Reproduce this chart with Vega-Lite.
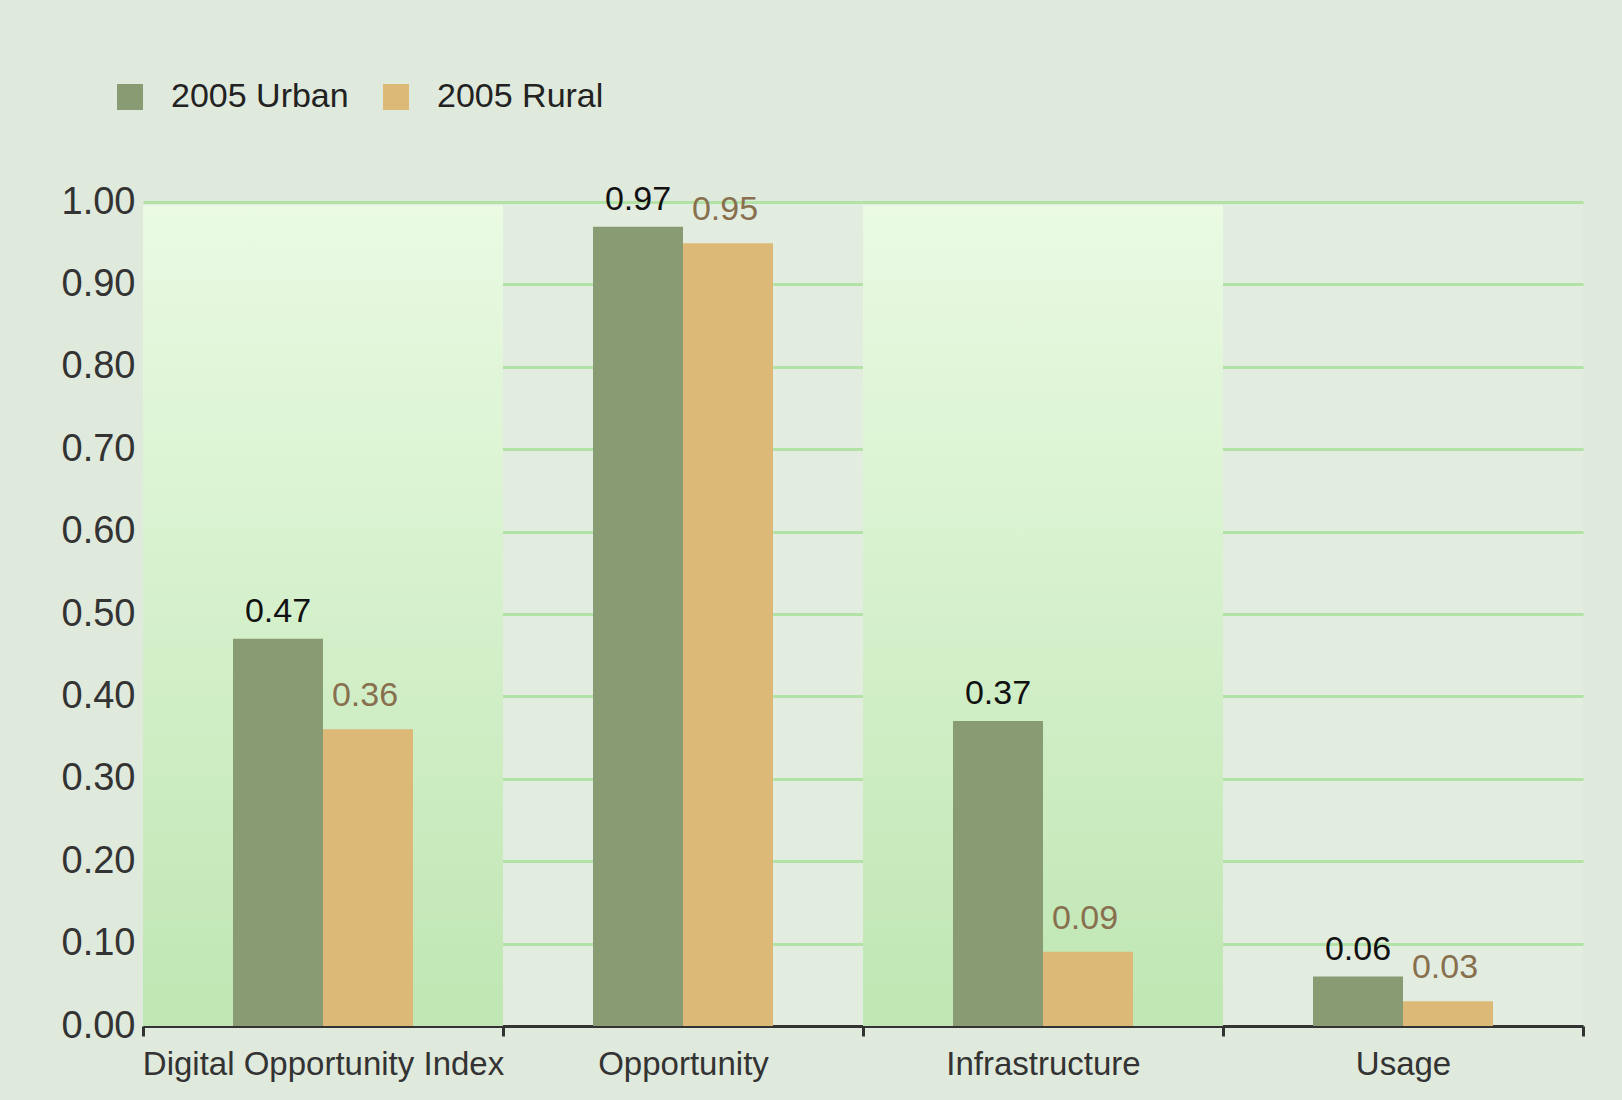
{
  "$schema": "https://vega.github.io/schema/vega-lite/v6.json",
  "width": 1440,
  "height": 824,
  "autosize": {"type": "none"},
  "padding": {"left": 143, "top": 202, "right": 39, "bottom": 74},
  "background": "#dfe9dc",
  "config": {
    "font": "Liberation Sans",
    "view": {"fill": "#e2eddf", "stroke": null},
    "axisY": {
      "grid": true,
      "gridColor": "#b3e2a6",
      "gridWidth": 3,
      "ticks": false,
      "domain": false,
      "labelFontSize": 38,
      "labelColor": "#333333",
      "labelPadding": 8
    },
    "axisX": {
      "labelAngle": 0,
      "labelFontSize": 33,
      "labelLimit": 600,
      "labelColor": "#333333",
      "labelPadding": 12,
      "tickBand": "extent",
      "tickColor": "#333333",
      "tickWidth": 3,
      "tickSize": 10,
      "domainColor": "#333333",
      "domainWidth": 3,
      "grid": false,
      "zindex": 2
    }
  },
  "data": {
    "values": [
      {"category": "Digital Opportunity Index", "series": "2005 Urban", "value": 0.47},
      {"category": "Digital Opportunity Index", "series": "2005 Rural", "value": 0.36},
      {"category": "Opportunity", "series": "2005 Urban", "value": 0.97},
      {"category": "Opportunity", "series": "2005 Rural", "value": 0.95},
      {"category": "Infrastructure", "series": "2005 Urban", "value": 0.37},
      {"category": "Infrastructure", "series": "2005 Rural", "value": 0.09},
      {"category": "Usage", "series": "2005 Urban", "value": 0.06},
      {"category": "Usage", "series": "2005 Rural", "value": 0.03}
    ]
  },
  "encoding": {
    "x": {
      "field": "category",
      "type": "nominal",
      "sort": ["Digital Opportunity Index", "Opportunity", "Infrastructure", "Usage"],
      "scale": {"paddingInner": 0, "paddingOuter": 0},
      "axis": {"title": null}
    },
    "y": {
      "field": "value",
      "type": "quantitative",
      "scale": {"domain": [0, 1], "nice": false},
      "axis": {
        "title": null,
        "values": [0, 0.1, 0.2, 0.3, 0.4, 0.5, 0.6, 0.7, 0.8, 0.9, 1.0],
        "format": ".2f",
        "grid": true
      }
    }
  },
  "layer": [
    {
      "transform": [
        {"filter": "datum.series == '2005 Urban' && (datum.category == 'Digital Opportunity Index' || datum.category == 'Infrastructure')"}
      ],
      "mark": {
        "type": "bar",
        "color": {
          "gradient": "linear",
          "x1": 0, "y1": 0, "x2": 0, "y2": 1,
          "stops": [
            {"offset": 0, "color": "#eafae3"},
            {"offset": 1, "color": "#bfe6b3"}
          ]
        }
      },
      "encoding": {
        "y": {"datum": 0.996, "type": "quantitative"},
        "y2": {"datum": 0}
      }
    },
    {
      "mark": {"type": "bar"},
      "encoding": {
        "xOffset": {
          "field": "series",
          "type": "nominal",
          "sort": ["2005 Urban", "2005 Rural"],
          "scale": {"paddingInner": 0, "paddingOuter": 1.02}
        },
        "color": {
          "field": "series",
          "type": "nominal",
          "sort": ["2005 Urban", "2005 Rural"],
          "scale": {"domain": ["2005 Urban", "2005 Rural"], "range": ["#889b72", "#dcb977"]},
          "legend": {
            "title": null,
            "orient": "none",
            "direction": "horizontal",
            "legendX": -30,
            "legendY": -122,
            "symbolType": "square",
            "symbolSize": 676,
            "symbolStrokeWidth": 0,
            "symbolOpacity": 1,
            "labelFontSize": 34,
            "labelLimit": 400,
            "labelColor": "#222222",
            "labelOffset": 24,
            "columnPadding": 30
          }
        }
      }
    },
    {
      "transform": [{"filter": "datum.series == '2005 Urban'"}],
      "mark": {"type": "text", "baseline": "bottom", "dy": -10, "fontSize": 34, "color": "#111111"},
      "encoding": {
        "xOffset": {"field": "series", "type": "nominal", "sort": ["2005 Urban", "2005 Rural"]},
        "text": {"field": "value", "type": "quantitative", "format": ".2f"}
      }
    },
    {
      "transform": [{"filter": "datum.series == '2005 Rural'"}],
      "mark": {"type": "text", "baseline": "bottom", "dy": -16, "dx": -3, "fontSize": 34, "color": "#88704f"},
      "encoding": {
        "xOffset": {"field": "series", "type": "nominal", "sort": ["2005 Urban", "2005 Rural"]},
        "text": {"field": "value", "type": "quantitative", "format": ".2f"}
      }
    }
  ]
}
